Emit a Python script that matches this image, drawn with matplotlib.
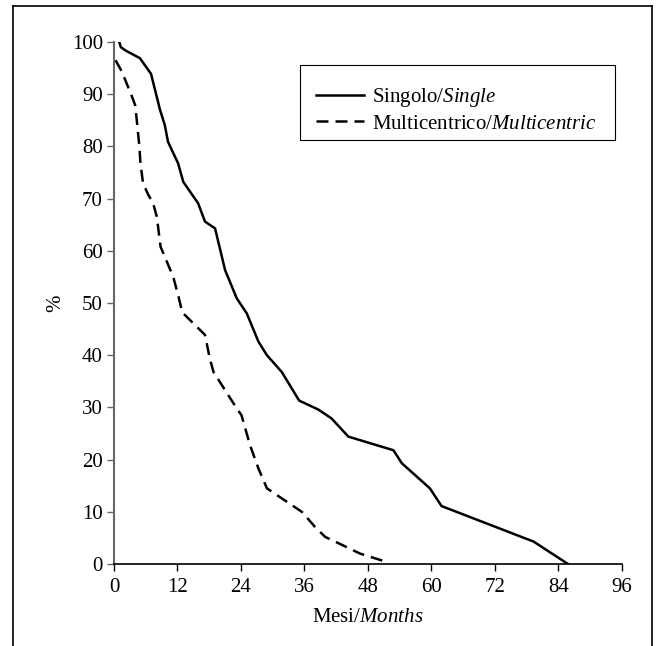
import matplotlib
matplotlib.use("Agg")
import matplotlib.pyplot as plt
from matplotlib.lines import Line2D
from matplotlib.patches import Rectangle

plt.rcParams['font.family'] = ['Liberation Serif', 'DejaVu Serif']
plt.rcParams['mathtext.fontset'] = 'custom'
plt.rcParams['mathtext.rm'] = 'Liberation Serif'
plt.rcParams['mathtext.it'] = 'Liberation Serif:italic'

# survival curves (months, %)
single_months = [1.0, 1.3, 2.3, 4.9, 7.0, 8.7, 9.6, 10.2, 12.1, 13.1, 15.9, 17.2,
                 19.1, 21.0, 23.2, 25.1, 27.3, 28.9, 31.7, 35.0, 38.6, 41.1,
                 44.3, 52.8, 54.4, 59.7, 61.9, 79.3, 85.8]
single_pct = [100, 99.0, 98.3, 96.9, 93.9, 87.0, 84.1, 80.9, 76.8, 73.2, 69.1, 65.6,
              64.3, 56.3, 50.9, 48.0, 42.6, 40.0, 36.8, 31.3, 29.6, 27.9,
              24.4, 21.8, 19.3, 14.5, 11.1, 4.3, 0]

multi_months = [0.3, 1.5, 3.3, 4.0, 4.3, 4.8, 5.0, 5.5, 6.5, 7.4, 8.1, 8.8, 10.0,
                11.2, 12.2, 12.9, 16.3, 17.2, 18.1, 18.8, 21.0, 23.2, 24.1,
                25.7, 27.3, 28.9, 30.8, 35.5, 38.0, 39.9, 42.4, 46.5, 51.5]
multi_pct = [96.5, 94.3, 89.8, 87.9, 85.1, 80.0, 76.8, 72.9, 70.7, 69.1, 66.5, 60.8,
             57.9, 55.0, 51.2, 48.2, 44.8, 43.9, 39.4, 36.8, 33.3, 29.8, 28.5,
             22.8, 18.3, 14.5, 13.2, 10.0, 7.1, 5.2, 4.0, 2.0, 0.4]

x_ticks = [0, 12, 24, 36, 48, 60, 72, 84, 96]
y_ticks = [0, 10, 20, 30, 40, 50, 60, 70, 80, 90, 100]

fig = plt.figure(figsize=(6.65, 6.46), dpi=100)
ax = fig.add_axes([0.1714, 0.1269, 0.7639, 0.8081])

ax.plot(single_months, single_pct, color='black', lw=1.8,
        label='Singolo/$\\mathit{Single}$')
dashed, = ax.plot(multi_months, multi_pct, color='black', lw=1.8,
                  label='Multicentrico/$\\mathit{Multicentric}$')
dashed.set_dashes([4.8, 2.8])

ax.set_xlim(0, 96)
ax.set_ylim(0, 100)
ax.set_xticks(x_ticks)
ax.set_yticks(y_ticks)
ax.tick_params(axis='both', direction='out', length=5, width=1, labelsize=15)
ax.tick_params(axis='y', colors='#666666', labelcolor='black', pad=3)
ax.tick_params(axis='x', pad=5)

for side in ['top', 'right']:
    ax.spines[side].set_visible(False)
ax.spines['left'].set_color('#666666')
ax.spines['left'].set_linewidth(1.5)
ax.spines['bottom'].set_linewidth(1.2)

ax.set_xlabel('Mesi/$\\mathit{Months}$', fontsize=15, labelpad=8)
ax.set_ylabel('%', fontsize=15, labelpad=5)

# legend box drawn separately so the entries can sit lower in it
ax.add_patch(Rectangle((0.366, 0.812), 0.620, 0.144, transform=ax.transAxes,
                       facecolor='white', edgecolor='black', lw=0.8, zorder=3))
leg = ax.legend(loc='center left', bbox_to_anchor=(0.398, 0.870), fontsize=15,
                frameon=False, handlelength=2.3, handletextpad=0.4,
                borderpad=0, labelspacing=0.25, borderaxespad=0)
leg.set_zorder(4)

# outer box around the figure
for xs, ys in [([0.0195, 0.0195], [0.0, 0.9907]),
               ([0.0195, 0.981], [0.9907, 0.9907]),
               ([0.981, 0.981], [0.0, 0.9907])]:
    fig.add_artist(Line2D(xs, ys, transform=fig.transFigure, color='black', lw=1.2))

fig.savefig('out.png', dpi=100)
